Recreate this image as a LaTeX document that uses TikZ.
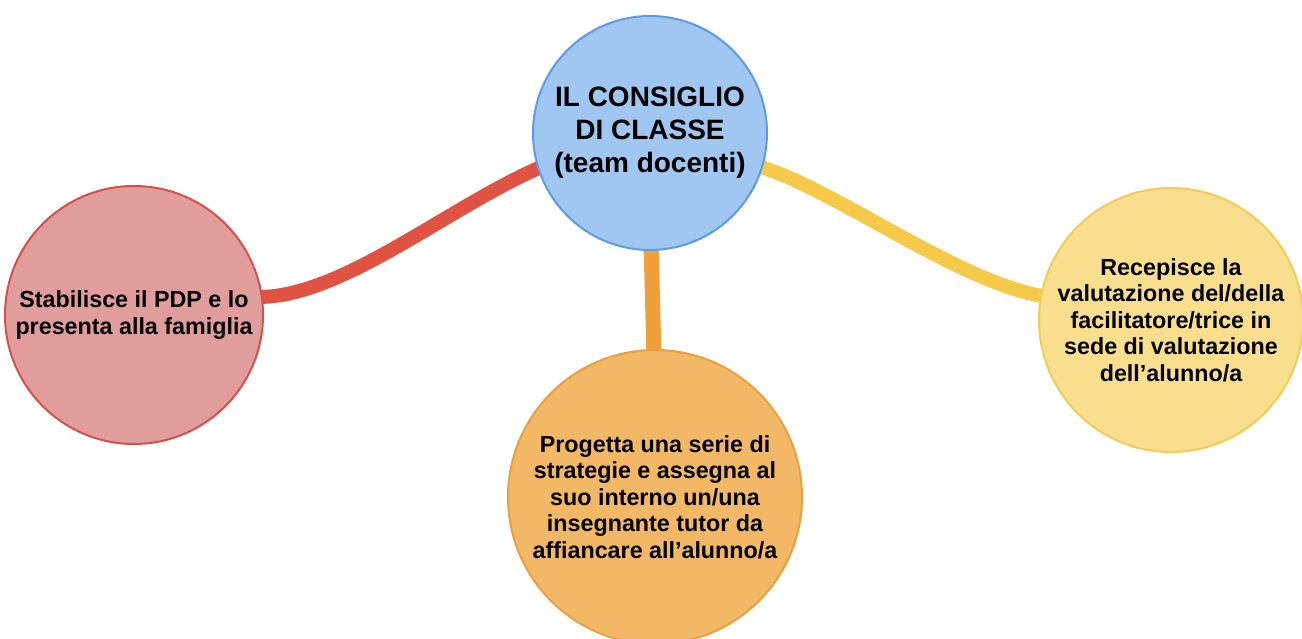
\documentclass[tikz,border=0pt]{standalone}
\usepackage{fontspec}
\setmainfont{Liberation Sans}
\usetikzlibrary{backgrounds}
\definecolor{bfill}{HTML}{A0C6F2}
\definecolor{bline}{HTML}{5E9BE3}
\definecolor{rfill}{HTML}{E19C9C}
\definecolor{rline}{HTML}{D2524A}
\definecolor{ofill}{HTML}{F2B866}
\definecolor{oline}{HTML}{E9A040}
\definecolor{yfill}{HTML}{F9DF8D}
\definecolor{yline}{HTML}{F2CC5A}
\definecolor{rconn}{HTML}{E05242}
\definecolor{oconn}{HTML}{F0A03A}
\definecolor{yconn}{HTML}{F5C94A}
\tikzset{
  bubble/.style={circle, inner sep=0pt, line width=2pt, align=center,
    font=\bfseries\fontsize{23.3}{26.5}\selectfont, text=black},
  conn/.style={line width=14pt},
}
\begin{document}
\begin{tikzpicture}[x=1pt,y=-1pt]
\useasboundingbox (0,0) rectangle (1302,639);
\node[bubble, minimum size=234pt, fill=bfill, draw=bline,
  font=\bfseries\fontsize{28}{33}\selectfont] (C) at (650,133)
  {IL CONSIGLIO\\DI CLASSE\\(team docenti)};
\node[bubble, minimum size=258pt, fill=rfill, draw=rline] (L) at (134,315)
  {Stabilisce il PDP e lo\\presenta alla famiglia};
\node[bubble, minimum size=264pt, fill=yfill, draw=yline] (R) at (1171,320)
  {Recepisce la\\valutazione del/della\\facilitatore/trice in\\sede di valutazione\\dell’alunno/a};
\node[bubble, minimum size=294pt, fill=ofill, draw=oline] (B) at (655,497)
  {Progetta una serie di\\strategie e assegna al\\suo interno un/una\\insegnante tutor da\\affiancare all’alunno/a};
\begin{scope}[on background layer]
  \draw[conn, rconn] ([shift={(-8,0)}]L.8) .. controls (340,300) and (450,205) .. ([shift={(8,0)}]C.196);
  \draw[conn, yconn] ([shift={(-8,0)}]C.-16) .. controls (830,185) and (960,285) .. ([shift={(8,0)}]R.170);
  \draw[conn, oconn, line width=15pt] ([shift={(1,-8)}]C.south) -- ([shift={(-1,8)}]B.north);
\end{scope}
\end{tikzpicture}
\end{document}
